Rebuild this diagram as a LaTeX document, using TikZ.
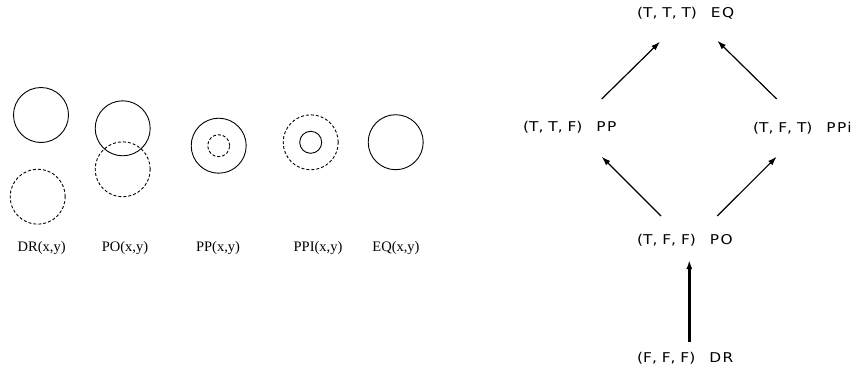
\documentclass[tikz,border=0pt]{standalone}
\usepackage{fontspec}
\setmainfont{Liberation Serif}
\newfontfamily\tuplefont[FakeStretch=1.14]{DejaVu Sans}
\newfontfamily\relfont[FakeStretch=1.14,LetterSpace=10]{DejaVu Sans}
\usetikzlibrary{positioning,arrows.meta}

\newcommand{\relstate}[2]{{\tuplefont #1}\hspace{14pt}{\relfont #2}}

\begin{document}
\begin{tikzpicture}[x=1pt,y=1pt,
	region/.style={line width=0.9pt},
	dashregion/.style={line width=0.9pt,dash pattern=on 3pt off 2pt},
	caption/.style={font=\fontsize{14.5}{16}\selectfont,inner sep=0pt},
	state/.style={font=\fontsize{13.5}{15}\selectfont,inner sep=0pt,anchor=west},
	up/.style={-{Latex[length=9pt,width=6pt]},line width=1.2pt}]
	\useasboundingbox (0,0) rectangle (859,376);

	% Regions x (solid) and y (dashed)
	\draw[region] (41,261) circle (27.5);
	\draw[dashregion] (37.7,179.3) circle (27.5);
	\draw[region] (122.7,247.7) circle (27.5);
	\draw[dashregion] (122.7,206.7) circle (27.5);
	\draw[region] (218.7,230.3) circle (27.5);
	\draw[dashregion] (218.7,230.3) circle (11);
	\draw[dashregion] (310.7,233.7) circle (27.5);
	\draw[region] (310.7,233.7) circle (11);
	\draw[region] (395.7,233.8) circle (27.5);

	\node[caption] (capDR) at (41.7,128) {DR(x,y)};
	\node[caption] (capPO) at (125,128) {PO(x,y)};
	\node[caption] (capPP) at (218,128) {PP(x,y)};
	\node[caption] (capPPI) at (318,128) {PPI(x,y)};
	\node[caption] (capEQ) at (396,128) {EQ(x,y)};

	% Lattice of relations
	\node[state] (eq) at (637,363) {\relstate{(T, T, T)}{EQ}};
	\node[state] (pp) at (523,249) {\relstate{(T, T, F)}{PP}};
	\node[state] (ppi) at (753,248) {\relstate{(T, F, T)}{PPi}};
	\node[state] (po) at (637,136) {\relstate{(T, F, F)}{PO}};
	\node[state] (dr) at (637,18) {\relstate{(F, F, F)}{DR}};

	\draw[up] ([shift={(78.7,28)}]pp.west) -- ([shift={(23,-28.7)}]eq.west);
	\draw[up] ([shift={(23.7,29)}]ppi.west) -- ([shift={(80.3,-27.7)}]eq.west);
	\draw[up] ([shift={(24,24)}]po.west) -- ([shift={(78.7,-29.7)}]pp.west);
	\draw[up] ([shift={(80.3,24)}]po.west) -- ([shift={(23.7,-28.7)}]ppi.west);
	\draw[up,line width=2.4pt] ([shift={(52.3,16.3)}]dr.west) -- ([shift={(52.3,-20)}]po.west);
\end{tikzpicture}
\end{document}
